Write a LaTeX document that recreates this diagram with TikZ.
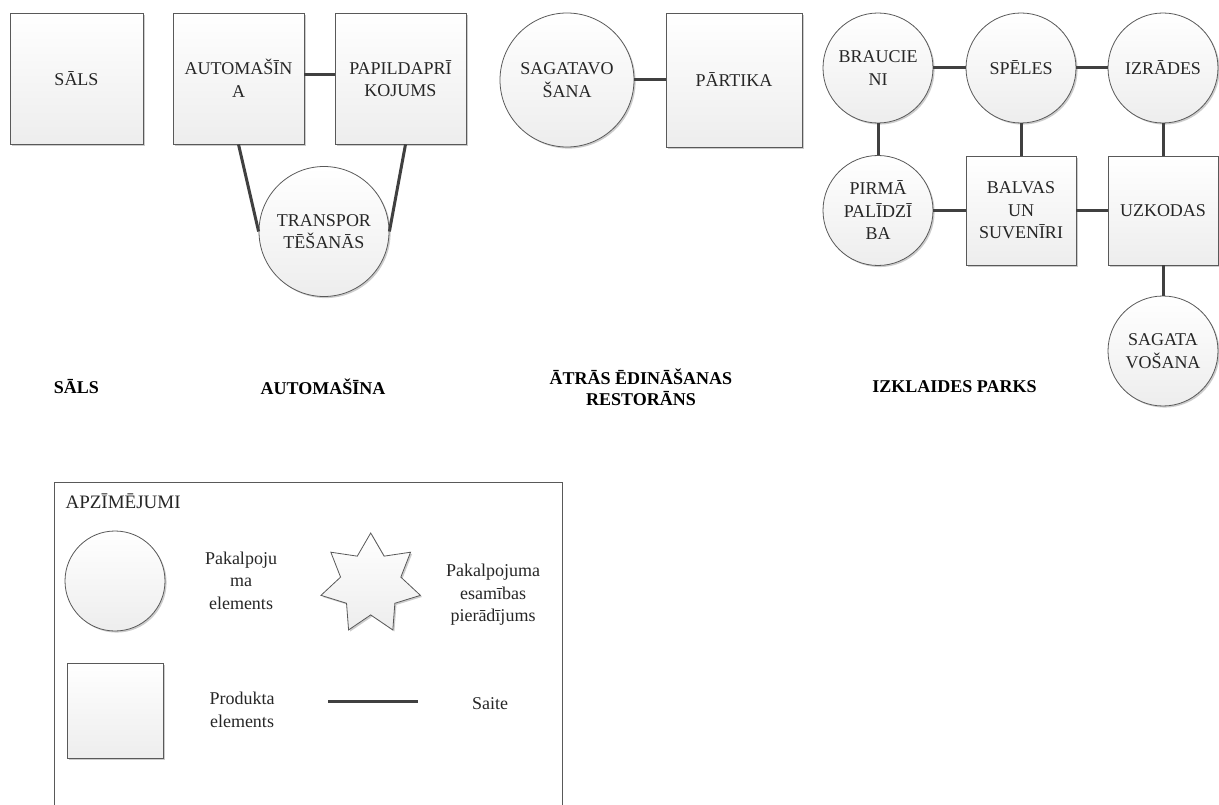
\documentclass[tikz,border=0pt]{standalone}
\usepackage{fontspec}
\setmainfont{Liberation Serif}
\usetikzlibrary{shapes.geometric,shadows}
\begin{document}
\begin{tikzpicture}[x=1pt,y=-1pt,
  every node/.style={font=\fontsize{18}{22.5}\selectfont, align=center, text=black!85},
  elem/.style={draw=black!65, line width=0.8pt, top color=white, bottom color=black!7,
    drop shadow={shadow xshift=1.6pt, shadow yshift=-1.6pt, opacity=0.2, fill=black}},
  prod/.style={elem, rectangle, inner sep=0pt},
  serv/.style={elem, circle, inner sep=0pt},
  link/.style={draw=black!75, line width=3pt},
  caption/.style={font=\bfseries\fontsize{18}{21}\selectfont, text=black},
  legtext/.style={text=black!85},
]
\useasboundingbox (0,0) rectangle (1219,805);

% --- Salt ---
\node[prod, minimum width=133pt, minimum height=131pt] (sals) at (76.5,78.5) {SĀLS};

% --- Car ---
\node[prod, minimum width=131pt, minimum height=131pt] (auto) at (238.5,78.5) {AUTOMAŠĪN\\A};
\node[prod, minimum width=131pt, minimum height=131pt] (papild) at (400.5,78.5) {PAPILDAPRĪ\\KOJUMS};
\node[serv, minimum size=130pt] (transp) at (324,231.5) {TRANSPOR\\TĒŠANĀS};

\draw[link] ([yshift=3.5pt]auto.east) -- ([yshift=3.5pt]papild.west);
\draw[link] (auto.south) -- (transp.west);
\draw[link] ([xshift=5pt]papild.south) -- (transp.east);

% --- Fast food restaurant ---
\node[serv, minimum size=134pt] (prep) at (567,80) {SAGATAVO\\ŠANA};
\node[prod, minimum width=136pt, minimum height=134pt] (food) at (734,80) {PĀRTIKA};
\draw[link] (prep.east) -- (food.west);

% --- Amusement park ---
\node[serv, minimum size=110pt] (rides) at (878,68) {BRAUCIE\\NI};
\node[serv, minimum size=110pt] (games) at (1021,68) {SPĒLES};
\node[serv, minimum size=110pt] (shows) at (1163,68) {IZRĀDES};
\node[serv, minimum size=110pt] (aid) at (878,210.5) {PIRMĀ\\PALĪDZĪ\\BA};
\node[prod, minimum width=110pt, minimum height=109pt] (prizes) at (1021,210.5) {BALVAS\\UN\\SUVENĪRI};
\node[prod, minimum width=110pt, minimum height=109pt] (snacks) at (1163,210.5) {UZKODAS};
\node[serv, minimum size=110pt] (cook) at (1163,351) {SAGATA\\VOŠANA};

\draw[link] (rides.east) -- (games.west);
\draw[link] (games.east) -- (shows.west);
\draw[link] (rides.south) -- (aid.north);
\draw[link] (games.south) -- (prizes.north);
\draw[link] (shows.south) -- (snacks.north);
\draw[link] (aid.east) -- (prizes.west);
\draw[link] (prizes.east) -- (snacks.west);
\draw[link] (snacks.south) -- (cook.north);

% --- Captions ---
\node[caption] (c1) at (76.5,387) {SĀLS};
\node[caption] (c2) at (323,387) {AUTOMAŠĪNA};
\node[caption] (c3) at (641,387.5) {ĀTRĀS ĒDINĀŠANAS\\RESTORĀNS};
\node[caption] (c4) at (954.5,387) {IZKLAIDES PARKS};

% --- Legend ---
\draw[draw=black!65, line width=0.8pt] (54,815) -- (54,482) -- (562,482) -- (562,815);
\node[legtext, anchor=west, font=\fontsize{19}{23}\selectfont] (legtitle) at (62,501) {APZĪMĒJUMI};

\node[serv, minimum size=100pt] (lcirc) at (115,581) {};
\node[legtext] (lcirct) at (241,580.5) {Pakalpoju\\ma\\elements};

\node[elem, star, star points=7, star point ratio=1.65, minimum size=102pt, inner sep=0pt] (lstar) at (370.7,584) {};
\node[legtext] (lstart) at (493,595) {Pakalpojuma\\esamības\\pierādījums};

\node[prod, minimum width=96pt, minimum height=95pt] (lsq) at (115,710.5) {};
\node[legtext] (lsqt) at (242,710) {Produkta\\elements};

\coordinate (la) at (328,701);
\coordinate (lb) at (418,701);
\draw[link] (la) -- (lb);
\node[legtext] (llinet) at (490,704) {Saite};
\end{tikzpicture}
\end{document}
